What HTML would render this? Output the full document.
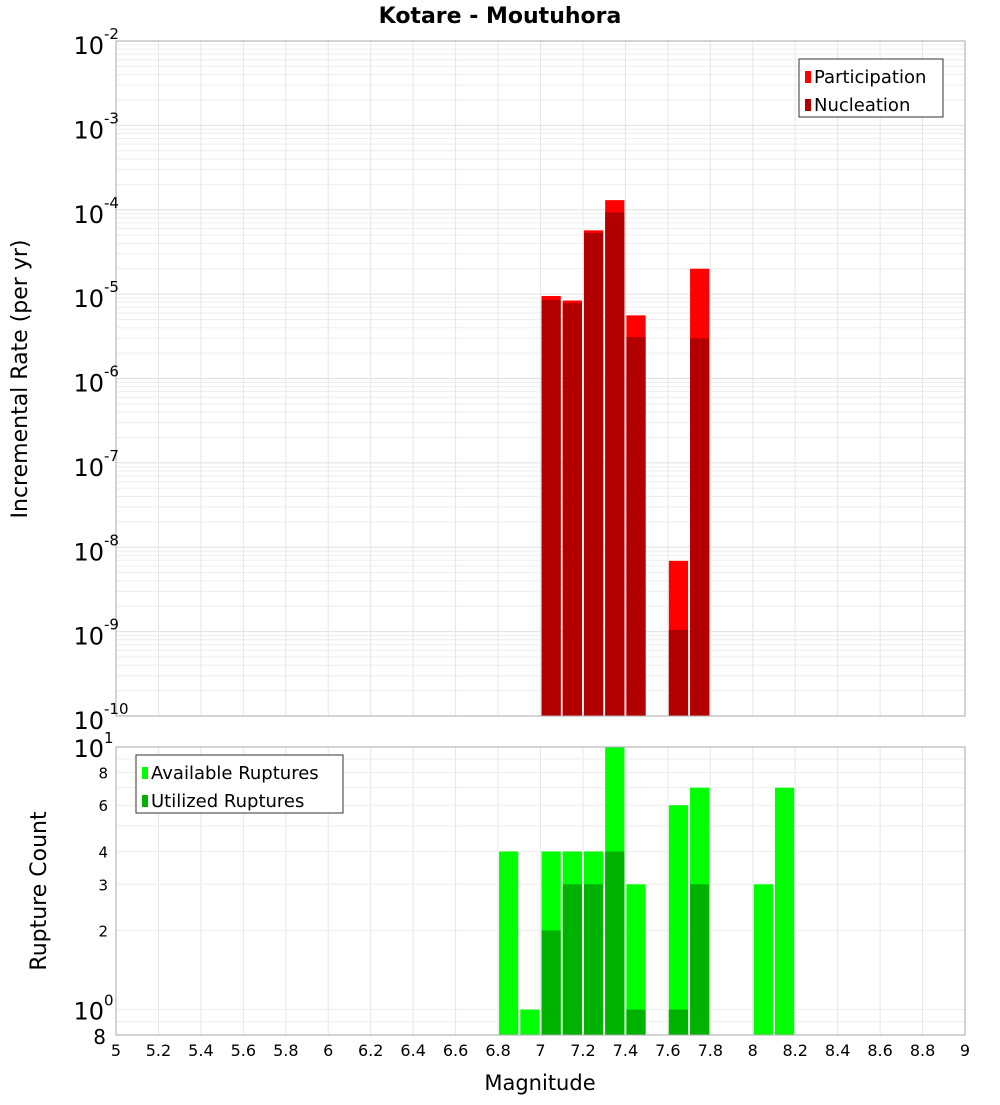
<!DOCTYPE html>
<html><head><meta charset="utf-8"><style>
body{margin:0;background:#fff;font-family:"Liberation Sans","DejaVu Sans",sans-serif;}
svg text{font-family:"DejaVu Sans","Liberation Sans",sans-serif;}
</style></head><body>
<svg id="c" width="1000" height="1100" xmlns="http://www.w3.org/2000/svg">
<text x="500" y="23" text-anchor="middle" font-size="22" font-weight="bold">Kotare - Moutuhora</text>
<g id="topPlot"></g>
<g id="botPlot"></g>
<text transform="translate(27,379) rotate(-90)" text-anchor="middle" font-size="22">Incremental Rate (per yr)</text>
<text transform="translate(46,891) rotate(-90)" text-anchor="middle" font-size="22">Rupture Count</text>
<text x="540" y="1090" text-anchor="middle" font-size="21">Magnitude</text>
</svg>
<script>
const bins=[6.85,6.95,7.05,7.15,7.25,7.35,7.45,7.55,7.65,7.75,7.85,7.95,8.05,8.15];
const participation=[0,0,9.5e-6,8.4e-6,5.7e-5,1.3e-4,5.6e-6,0,6.9e-9,2.0e-5,0,0,0,0];
const nucleation=[0,0,8.5e-6,7.8e-6,5.3e-5,9.3e-5,3.1e-6,0,1.05e-9,3.0e-6,0,0,0,0];
const available=[4,1,4,4,4,10,3,0,6,7,0,0,3,7];
const utilized=[0,0,2,3,3,4,1,0,1,3,0,0,0,0];
const xTicks=[5,5.2,5.4,5.6,5.8,6,6.2,6.4,6.6,6.8,7,7.2,7.4,7.6,7.8,8,8.2,8.4,8.6,8.8,9];
const rateExps=[-2,-3,-4,-5,-6,-7,-8,-9,-10];
const countTicks=[2,3,4,6,8];

const NS="http://www.w3.org/2000/svg";
const L=116,R=965,T1=41,B1=716,T2=747,B2=1035;
const X=m=>L+(m-5)/4*(R-L);
const Y1=v=>T1+(-2-Math.log10(v))*(B1-T1)/8;
const cMin=Math.log10(0.8),cMax=1;
const Y2=v=>B2-(Math.log10(v)-cMin)/(cMax-cMin)*(B2-T2);
function el(p,t,a,txt){const e=document.createElementNS(NS,t);for(const k in a)e.setAttribute(k,a[k]);if(txt!=null)e.textContent=txt;p.appendChild(e);return e;}
const gTop=document.getElementById('topPlot'),gBot=document.getElementById('botPlot');

for(let e=-10;e<-2;e++)for(let k=1;k<10;k++){const y=Y1(k*Math.pow(10,e));
 const g=el(gTop,'line',{x1:L,x2:R,y1:y,y2:y,stroke:k==1?'#e0e0e0':'#eeeeee','stroke-width':1});
 
 }
for(const t of xTicks){for(const [p,y0,y1] of [[gTop,T1,B1],[gBot,T2,B2]]){
 const g=el(p,'line',{x1:X(t),x2:X(t),y1:y0,y2:y1,stroke:'#e6e6e6'});
 
 }}
for(const v of [0.8,0.9,1,2,3,4,5,6,7,8,9,10]){const y=Y2(v);
 const g=el(gBot,'line',{x1:L,x2:R,y1:y,y2:y,stroke:'#eeeeee'});
 
 }

const bw=(R-L)/40;
bins.forEach((b,i)=>{
 const x0=X(b-0.05)+1,w=bw-2;
 if(participation[i]>0){const r=el(gTop,'rect',{x:x0,y:Y1(participation[i]),width:w,height:B1-Y1(participation[i]),fill:'#ff0000'});
  
  }
 if(nucleation[i]>0){const r=el(gTop,'rect',{x:x0,y:Y1(nucleation[i]),width:w,height:B1-Y1(nucleation[i]),fill:'#b20000'});
  
  }
 if(available[i]>0){const r=el(gBot,'rect',{x:x0,y:Y2(available[i]),width:w,height:B2-Y2(available[i]),fill:'#00ff00'});
  
  }
 if(utilized[i]>0){const r=el(gBot,'rect',{x:x0,y:Y2(utilized[i]),width:w,height:B2-Y2(utilized[i]),fill:'#00b200'});
  
  }
});
for(const [p,y0,y1] of [[gTop,T1,B1],[gBot,T2,B2]]){const f=el(p,'rect',{x:L,y:y0,width:R-L,height:y1-y0,fill:'none',stroke:'#aaaaaa'});
 
 }
for(const e of rateExps){const y=Y1(Math.pow(10,e));
 const t=el(gTop,'text',{x:104,y:y+13,'text-anchor':'end','font-size':24},'10');
 
 
 const s=el(gTop,'text',{x:104,y:y-2,'font-size':15},String(e));
 
 }
for(const [v,lab] of [[10,'1'],[1,'0']]){const y=Y2(v);
 const t=el(gBot,'text',{x:104,y:y+10,'text-anchor':'end','font-size':24},'10');
 
 
 const s=el(gBot,'text',{x:104,y:y-4,'font-size':15},lab);
 
 }
for(const v of countTicks){const t=el(gBot,'text',{x:108,y:Y2(v)+6,'text-anchor':'end','font-size':15},String(v));
 
 }
{const t=el(gBot,'text',{x:106,y:B2+9,'text-anchor':'end','font-size':20},'8');
 
 }
for(const v of xTicks){const t=el(gBot,'text',{x:X(v),y:1056,'text-anchor':'middle','font-size':16},String(v));
 
 }
function legend(p,x,y,w,items,name){const g=el(p,'g',{});
 
 
 el(g,'rect',{x:x,y:y,width:w,height:58,fill:'#fff',stroke:'#333'});
 items.forEach((it,i)=>{el(g,'rect',{x:x+6,y:y+12+i*28,width:6,height:12,fill:it[1]});
  const t=el(g,'text',{x:x+15,y:y+24+i*28,'font-size':18},it[0]);
  
  });}
legend(gTop,799,59,144,[['Participation','#ff0000'],['Nucleation','#b20000']],'rate-legend');
legend(gBot,136,755,207,[['Available Ruptures','#00ff00'],['Utilized Ruptures','#00b200']],'count-legend');
</script>
</body></html>
